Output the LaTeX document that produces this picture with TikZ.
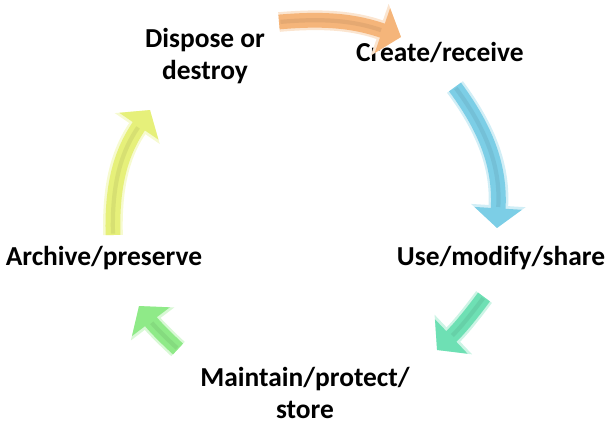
\documentclass[tikz,border=0pt]{standalone}
\usepackage{fontspec}
\setmainfont{Carlito}
\usetikzlibrary{arrows.meta,positioning}

\definecolor{arrOrange}{HTML}{F5B57A}
\definecolor{arrBlue}{HTML}{7CCEE6}
\definecolor{arrTeal}{HTML}{6EE0B4}
\definecolor{arrGreen}{HTML}{8FEA88}
\definecolor{arrYellow}{HTML}{E6F07A}

\tikzset{
  stage/.style={font=\bfseries\fontsize{19.5}{23}\selectfont, align=center, inner sep=0pt},
  cyc/.style={line width=10.5pt, draw=#1, -{Triangle[length=14pt,width=33pt]},
    preaction={draw=#1!35, line width=14pt, -{Triangle[length=16pt,width=38pt]}}},
  ridge/.style={line width=3pt, draw=#1!75!black, opacity=0.25, shorten >=15pt, shorten <=1pt},
}

\begin{document}
\begin{tikzpicture}[x=0.025cm,y=-0.025cm]
    \useasboundingbox (0,0) rectangle (609,424);

    % stages of the cycle
    \node[stage] (dispose)  at (205,56)  {Dispose or\\destroy};
    \node[stage] (create)   at (440,52)  {Create/receive};
    \node[stage] (use)      at (501,258) {Use/modify/share};
    \node[stage] (maintain) at (305,393) {Maintain/protect/\\store};
    \node[stage] (archive)  at (104,258) {Archive/preserve};

    % arrow ends
    \coordinate (o1) at (279,22);  \coordinate (o2) at (401,37);
    \coordinate (b1) at (455,87);  \coordinate (b2) at (497,228);
    \coordinate (t1) at (484,297); \coordinate (t2) at (437,350);
    \coordinate (g1) at (178,349); \coordinate (g2) at (139,306);
    \coordinate (y1) at (113,235); \coordinate (y2) at (150,110);

    \draw[cyc=arrOrange] (o1) to[bend left=12] (o2);
    \draw[ridge=arrOrange] (o1) to[bend left=12] (o2);

    \draw[cyc=arrBlue] (b1) to[bend left=20] (b2);
    \draw[ridge=arrBlue] (b1) to[bend left=20] (b2);

    \draw[cyc=arrTeal] (t1) to[bend left=5] (t2);
    \draw[ridge=arrTeal] (t1) to[bend left=5] (t2);

    \draw[cyc=arrGreen] (g1) to[bend left=5] (g2);
    \draw[ridge=arrGreen] (g1) to[bend left=5] (g2);

    \draw[cyc=arrYellow] (y1) to[bend left=18] (y2);
    \draw[ridge=arrYellow] (y1) to[bend left=18] (y2);
\end{tikzpicture}
\end{document}
